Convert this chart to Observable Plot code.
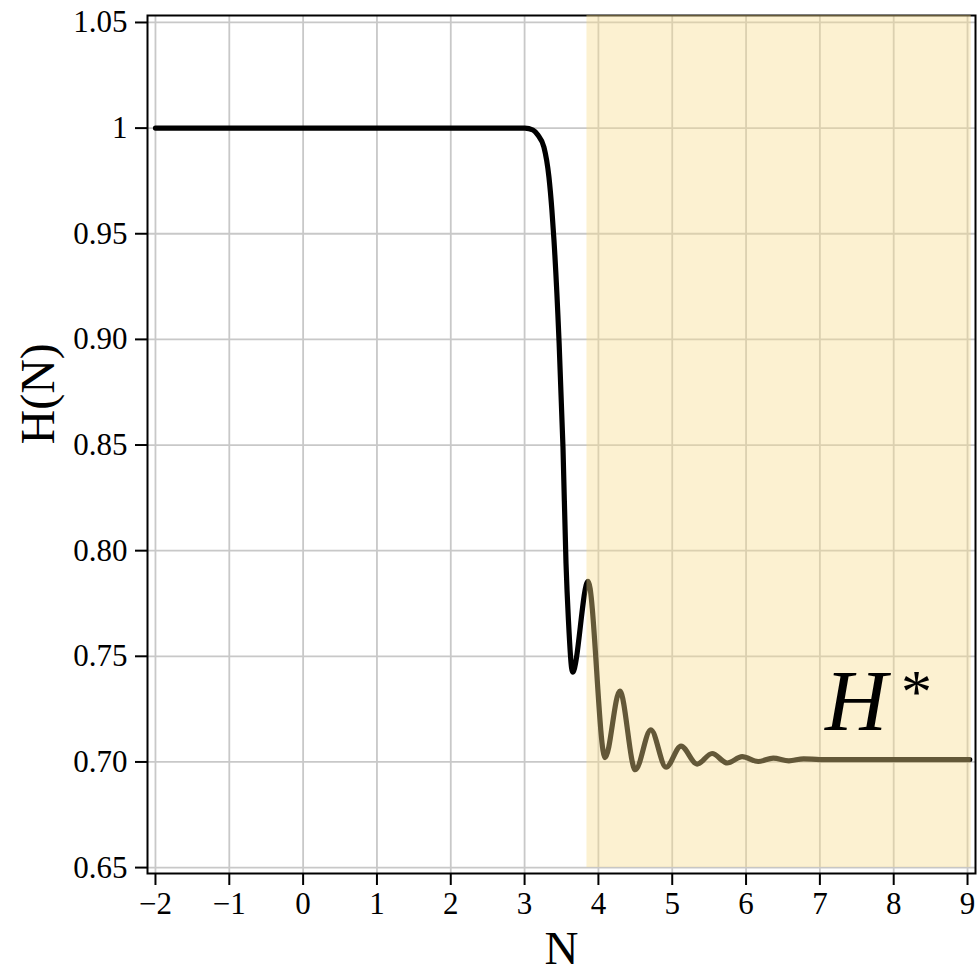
<!DOCTYPE html>
<html>
<head>
<meta charset="utf-8">
<script src="https://cdn.jsdelivr.net/npm/d3@7"></script>
<script src="https://cdn.jsdelivr.net/npm/@observablehq/plot@0.6"></script>
<style>
  body { margin: 0; background: #fff; }
  svg { display: block; }
  svg text { font-family: "Liberation Serif", "Times New Roman", serif !important; }
</style>
</head>
<body>
<div id="chart"></div>
<script>
// ---- data ----
const seriesN = [-2, -1, 0, 1, 2, 2.6, 3.004, 3.113, 3.18, 3.262, 3.33, 3.37, 3.398, 3.466, 3.52, 3.561, 3.594, 3.65,
  3.86, 4.09, 4.29, 4.50, 4.71, 4.916, 5.119, 5.337, 5.54, 5.744, 5.947, 6.164, 6.368, 6.58, 6.78, 7.0, 8.0, 9.03];
const seriesH = [1, 1, 1, 1, 1, 1, 1.0, 0.9991, 0.9967, 0.991, 0.9768, 0.9612, 0.947, 0.8997, 0.849, 0.7941, 0.7671, 0.7425,
  0.7855, 0.702, 0.7335, 0.6963, 0.7152, 0.6975, 0.7075, 0.699, 0.704, 0.6995, 0.7025, 0.7002, 0.7018, 0.7005, 0.7015, 0.7011, 0.7011, 0.7011];

const xTicks = [-2, -1, 0, 1, 2, 3, 4, 5, 6, 7, 8, 9];
const xTickLabels = ["\u22122", "\u22121", "0", "1", "2", "3", "4", "5", "6", "7", "8", "9"];
const yTicks = [0.65, 0.70, 0.75, 0.80, 0.85, 0.90, 0.95, 1.00, 1.05];
const yTickLabels = ["0.65", "0.70", "0.75", "0.80", "0.85", "0.90", "0.95", "1", "1.05"];

const xLabel = "N";
const yLabel = "H(N)";

// shaded region (asymptotic regime)
const shadeN = [3.845, 9.05];
const shadeH = [0.65, 1.0533];

// H* annotation anchor
const annotText = ["H", "*"];
const annotN = [7.07];
const annotH = [0.715];

// ---- build ----
const points = seriesN.map((n, i) => ({n, h: seriesH[i]}));
const shade = [{x1: shadeN[0], x2: shadeN[1], y1: shadeH[0], y2: shadeH[1]}];
const annot = [{n: annotN[0], h: annotH[0]}];
const serif = "Liberation Serif";

const chart = Plot.plot({
  width: 980,
  height: 973,
  marginLeft: 147,
  marginRight: 5,
  marginTop: 15,
  marginBottom: 100,
  style: {fontFamily: serif, fontSize: "31px", color: "#000", background: "#fff"},
  x: {domain: [-2.108, 9.108]},
  y: {domain: [0.6472, 1.0533]},
  marks: [
    Plot.gridX(xTicks, {stroke: "#c8c8c8", strokeOpacity: 1, strokeWidth: 1.8}),
    Plot.gridY(yTicks, {stroke: "#c8c8c8", strokeOpacity: 1, strokeWidth: 1.8}),
    Plot.frame({stroke: "#000", strokeWidth: 2}),
    Plot.axisX(xTicks, {tickSize: 12, tickPadding: 6, strokeWidth: 2, label: null, fontSize: 31, fontFamily: serif,
      fontVariant: "normal", tickFormat: d => xTickLabels[xTicks.indexOf(d)]}),
    Plot.axisY(yTicks, {tickSize: 12, tickPadding: 8, strokeWidth: 2, label: null, fontSize: 31, fontFamily: serif,
      fontVariant: "normal", tickFormat: d => yTickLabels[yTicks.indexOf(d)]}),
    Plot.line(points, {x: "n", y: "h", stroke: "#000", strokeWidth: 5.2, curve: "monotone-x"}),
    Plot.rect(shade, {x1: "x1", x2: "x2", y1: "y1", y2: "y2", fill: "rgb(247,220,140)", fillOpacity: 0.4}),
    Plot.text([yLabel], {frameAnchor: "left", dx: -94, rotate: -90, lineAnchor: "bottom", fontSize: 48, fontFamily: serif}),
    Plot.text([xLabel], {frameAnchor: "bottom", dy: 90, lineAnchor: "bottom", fontSize: 47, fontFamily: serif}),
    Plot.text(annot, {x: "n", y: "h", text: () => annotText[0], textAnchor: "start", lineAnchor: "bottom",
      fontSize: 86, fontStyle: "italic", fontFamily: serif}),
    Plot.text(annot, {x: "n", y: "h", text: () => annotText[1], textAnchor: "start", lineAnchor: "bottom",
      fontSize: 62, dx: 76, dy: -18, fontFamily: serif})
  ]
});

document.getElementById("chart").appendChild(chart);
</script>
</body>
</html>
